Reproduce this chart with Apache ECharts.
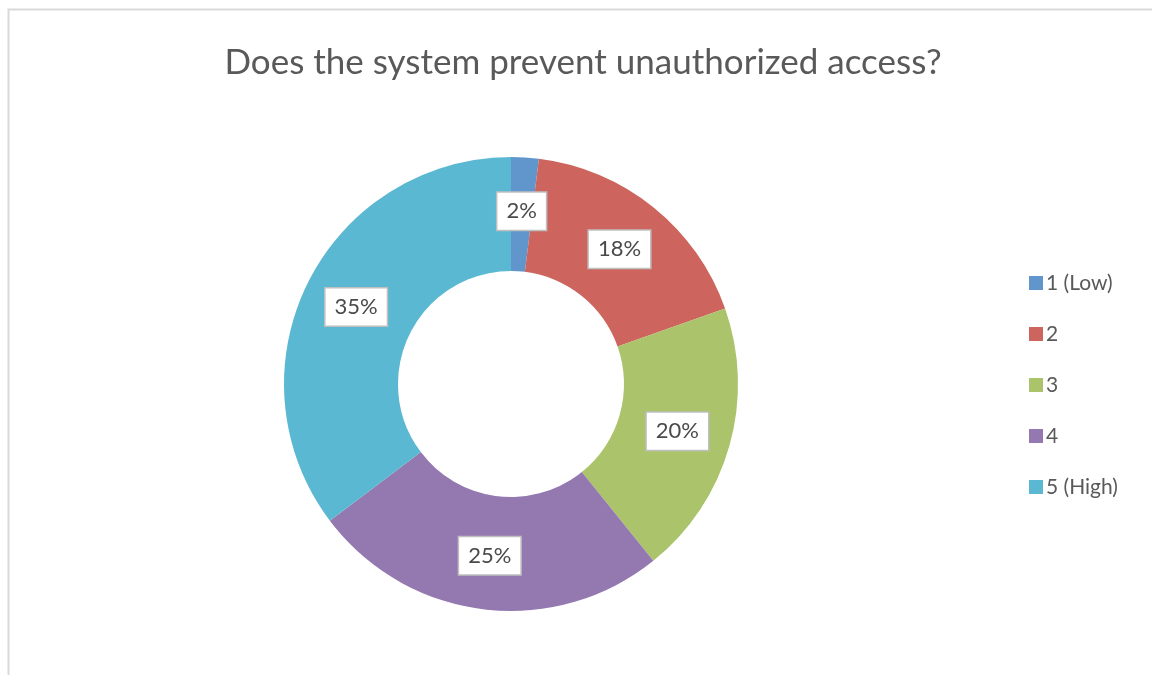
<!DOCTYPE html>
<html>
<head>
<meta charset="utf-8">
<script src="https://cdn.jsdelivr.net/npm/echarts@6/dist/echarts.min.js"></script>
<style>
  html, body { margin: 0; padding: 0; background: #fff; }
  #chart { width: 1152px; height: 675px; }
</style>
</head>
<body>
<div id="chart"></div>
<script>
// Survey answers: number of respondents per rating (shares shown as rounded percent)
const categories = ['1 (Low)', '2', '3', '4', '5 (High)'];
const responses = [1, 9, 10, 13, 18];
const colors = ['#6096CB', '#CD655E', '#ABC46B', '#9479B0', '#5BB8D2'];
const titleText = 'Does the system prevent unauthorized access?';

const FONT = 'Lato, "Open Sans", sans-serif';

const chart = echarts.init(document.getElementById('chart'), null, { renderer: 'canvas' });

chart.setOption({
  backgroundColor: '#ffffff',
  animation: false,
  color: colors,
  title: {
    text: titleText,
    left: 578,
    textAlign: 'center',
    top: 40,
    textStyle: {
      fontFamily: FONT,
      fontSize: 35,
      fontWeight: 'normal',
      color: '#595959'
    }
  },
  legend: {
    orient: 'vertical',
    left: 1029,
    top: 272,
    padding: 0,
    itemWidth: 14,
    itemHeight: 14,
    itemGap: 29,
    icon: 'rect',
    data: categories,
    textStyle: {
      fontFamily: FONT,
      fontSize: 21,
      lineHeight: 22,
      color: '#595959',
      padding: [0, 0, 0, -2]
    }
  },
  graphic: [{
    type: 'rect',
    silent: true,
    shape: { x: 8.5, y: 9.5, width: 1200, height: 700 },
    style: { fill: 'none', stroke: '#d9d9d9', lineWidth: 2 }
  }],
  series: [{
    type: 'pie',
    center: [511, 384],
    radius: [113, 227],
    startAngle: 90,
    clockwise: true,
    avoidLabelOverlap: false,
    percentPrecision: 0,
    label: {
      show: true,
      position: 'inside',
      formatter: '{d}%',
      fontFamily: FONT,
      fontSize: 22,
      lineHeight: 22,
      color: '#4a4a4a',
      backgroundColor: '#ffffff',
      borderColor: '#bfbfbf',
      borderWidth: 1.5,
      padding: [8, 9, 7, 9]
    },
    labelLine: { show: false },
    itemStyle: { borderWidth: 0 },
    emphasis: { disabled: true },
    data: categories.map((c, i) => ({ name: c, value: responses[i] }))
  }]
});
</script>
</body>
</html>
